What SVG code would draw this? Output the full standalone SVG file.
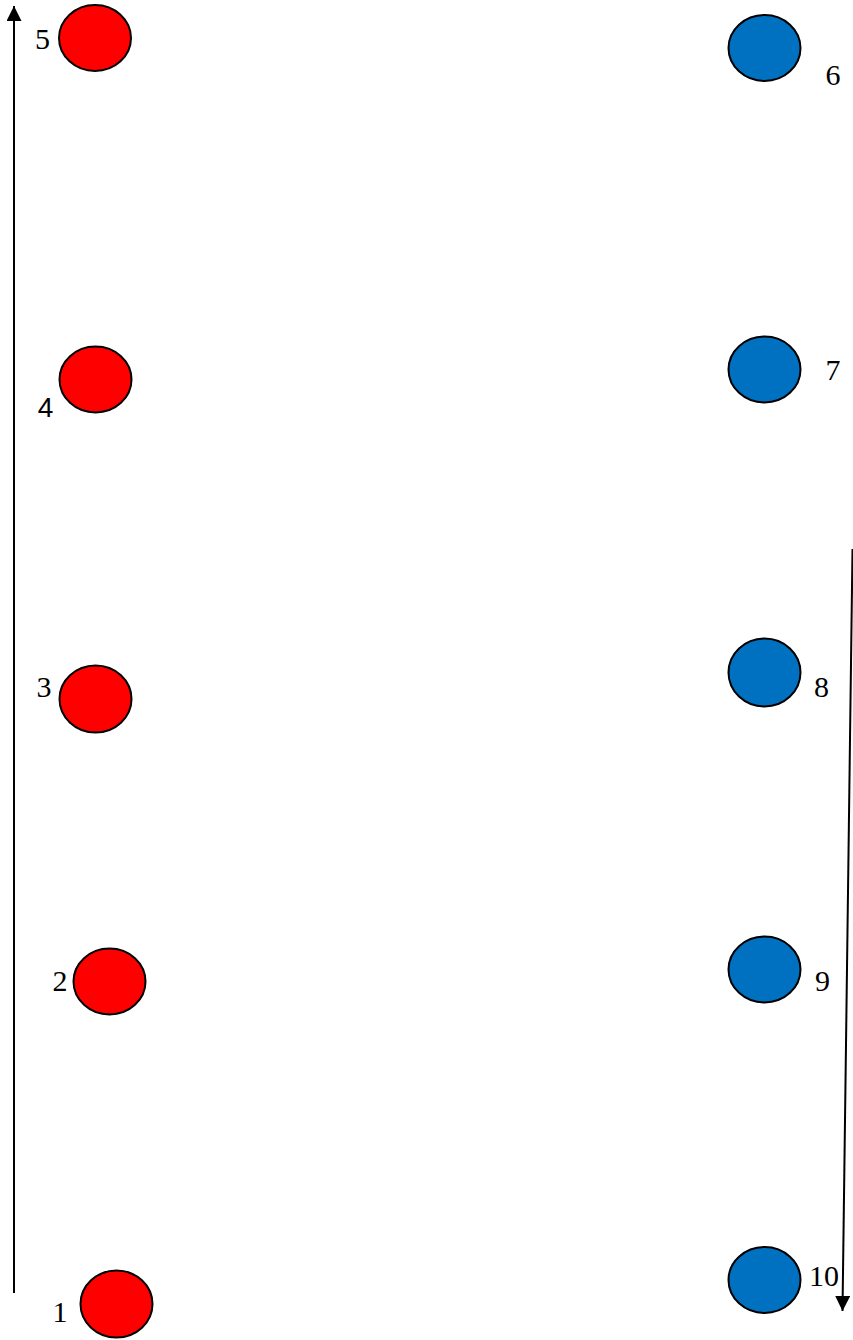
<svg xmlns="http://www.w3.org/2000/svg" width="853" height="1340" viewBox="0 0 853 1340">
<style>
.red{fill:#ff0000;stroke:#000;stroke-width:2}
.blue{fill:#0070c0;stroke:#000;stroke-width:2}
.lbl{font-family:"Liberation Serif","Times New Roman",serif;font-size:30px;fill:#000;text-anchor:middle}
.sans{font-family:"Liberation Sans",Arial,sans-serif;font-size:28px}
.conn{stroke:#000;stroke-width:2;fill:none}
</style>
<defs>
<marker id="ah" viewBox="0 0 10 10" refX="10" refY="5" markerWidth="7.5" markerHeight="7.5" markerUnits="strokeWidth" orient="auto">
<path d="M0,0 L10,5 L0,10 Z" fill="#000"/>
</marker>
</defs>
<rect width="853" height="1340" fill="#fff"/>
<g id="connectors">
<line class="conn" x1="14" y1="1293" x2="14" y2="6" marker-end="url(#ah)"/>
<line class="conn" x1="852.5" y1="549" x2="842.5" y2="1311" marker-end="url(#ah)"/>
</g>
<g id="n1"><ellipse class="red" cx="116.5" cy="1304" rx="36" ry="33.5"/><text class="lbl" x="60" y="1322">1</text></g>
<g id="n2"><ellipse class="red" cx="109.5" cy="981.5" rx="36" ry="33"/><text class="lbl" x="60" y="991">2</text></g>
<g id="n3"><ellipse class="red" cx="95.5" cy="699" rx="36" ry="33.5"/><text class="lbl" x="44" y="697">3</text></g>
<g id="n4"><ellipse class="red" cx="95.5" cy="379.5" rx="36" ry="33"/><text class="lbl sans" x="45.5" y="417">4</text></g>
<g id="n5"><ellipse class="red" cx="95" cy="38" rx="36" ry="33"/><text class="lbl" x="42.5" y="49">5</text></g>
<g id="n6"><ellipse class="blue" cx="764.5" cy="48" rx="36" ry="33"/><text class="lbl" x="833" y="85">6</text></g>
<g id="n7"><ellipse class="blue" cx="764.5" cy="369.5" rx="36" ry="33"/><text class="lbl" x="833" y="380">7</text></g>
<g id="n8"><ellipse class="blue" cx="764.5" cy="672.5" rx="36" ry="34"/><text class="lbl" x="821.5" y="697">8</text></g>
<g id="n9"><ellipse class="blue" cx="764.5" cy="969.5" rx="36" ry="33"/><text class="lbl" x="822.5" y="991">9</text></g>
<g id="n10"><ellipse class="blue" cx="764.5" cy="1280" rx="36" ry="33"/><text class="lbl" x="824" y="1286">10</text></g>
</svg>
